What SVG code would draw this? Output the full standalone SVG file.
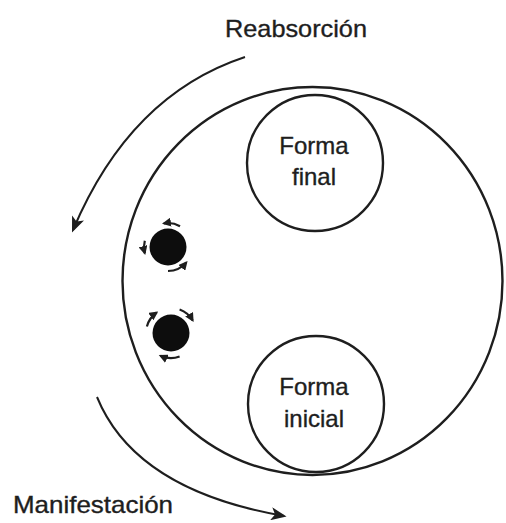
<svg xmlns="http://www.w3.org/2000/svg" width="506" height="523" viewBox="0 0 506 523">
<style>
.ln{fill:none;stroke:#1e1e1e;stroke-width:2.4}
.ar{fill:none;stroke:#1e1e1e;stroke-width:2}
.sw{fill:none;stroke:#1e1e1e;stroke-width:2.2}
.t{font-family:"Liberation Sans",Arial,sans-serif;font-size:24px;fill:#1e1e1e;stroke:#1e1e1e;stroke-width:0.35;text-anchor:middle}
</style>
<defs>
<marker id="big" viewBox="0 0 12 10" refX="10" refY="5" markerWidth="16" markerHeight="13" markerUnits="userSpaceOnUse" orient="auto">
<path d="M0,0 L12,5 L0,10 L3,5 z" fill="#1e1e1e"/>
</marker>
<marker id="sm" viewBox="0 0 10 10" refX="8" refY="5" markerWidth="9" markerHeight="9" markerUnits="userSpaceOnUse" orient="auto">
<path d="M0,0 L10,5 L0,10 z" fill="#1e1e1e"/>
</marker>
</defs>
<rect width="506" height="523" fill="#fff"/>
<g id="connectors">
<path class="ar" d="M245,57 Q130,95 73,230" marker-end="url(#big)"/>
<path class="ar" d="M97,397 Q135,490 284,516" marker-end="url(#big)"/>
</g>
<g id="outer">
<ellipse class="ln" cx="312.5" cy="281" rx="190" ry="194"/>
</g>
<g id="forma-final">
<circle class="ln" cx="315" cy="163" r="68"/>
<text class="t" x="314" y="154">Forma</text>
<text class="t" x="314" y="185">final</text>
</g>
<g id="forma-inicial">
<circle class="ln" cx="316" cy="404" r="68"/>
<text class="t" x="314" y="395">Forma</text>
<text class="t" x="314" y="427">inicial</text>
</g>
<g id="particle-1">
<circle cx="168" cy="247" r="18.5" fill="#0d0d0d"/>
<path class="sw" d="M180,226.2 A24,24 0 0 0 163.8,223.4" marker-end="url(#sm)"/>
<path class="sw" d="M144.8,240.8 A24,24 0 0 0 144.8,253.2" marker-end="url(#sm)"/>
<path class="sw" d="M168,271 A24,24 0 0 0 186.4,262.4" marker-end="url(#sm)"/>
</g>
<g id="particle-2">
<circle cx="171" cy="333" r="18.5" fill="#0d0d0d"/>
<path class="sw" d="M146.9,326.5 A25,25 0 0 1 156.7,312.5" marker-end="url(#sm)"/>
<path class="sw" d="M179.6,309.5 A25,25 0 0 1 192.7,320.5" marker-end="url(#sm)"/>
<path class="sw" d="M179.6,356.5 A25,25 0 0 1 160.4,355.7" marker-end="url(#sm)"/>
</g>
<g id="labels">
<text class="t" x="296" y="37" textLength="142" lengthAdjust="spacingAndGlyphs">Reabsorción</text>
<text class="t" x="93" y="513" textLength="160" lengthAdjust="spacingAndGlyphs">Manifestación</text>
</g>
</svg>
